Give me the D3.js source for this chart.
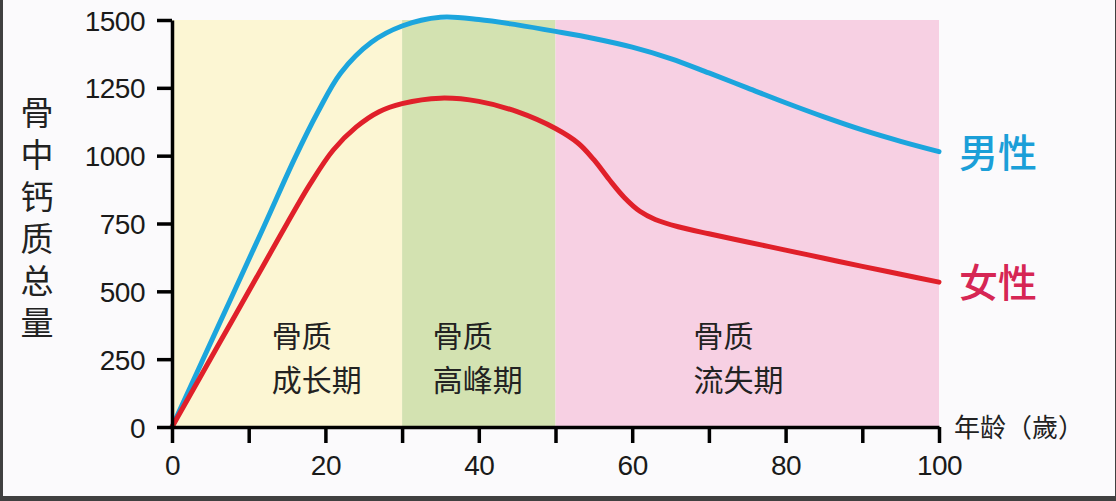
<!DOCTYPE html>
<html><head><meta charset="utf-8">
<script src="https://cdn.jsdelivr.net/npm/d3@7"></script>
<style>
html,body{margin:0;padding:0;background:#fbfafc;}
svg{display:block;}
</style></head>
<body>
<svg id="c" width="1116" height="501"></svg>
<script>
// ---- data ----
const maleAges = [0,6,12,16,19,22,26,30,35,40,45,50,55,60,65,70,75,80,85,90,95,100];
const male = [0,370,740,990,1160,1305,1418,1478,1510,1502,1482,1458,1432,1400,1358,1305,1250,1195,1143,1095,1053,1015];
const femaleAges = [0,6,12,15,18,21,24,27,30,35,40,45,50,53,55,57,59,61,63,66,70,75,80,85,90,95,100];
const female = [0,300,600,750,895,1020,1105,1162,1192,1212,1200,1162,1100,1045,985,912,845,795,765,738,712,682,652,622,592,563,534];
const xTicks = [0,10,20,30,40,50,60,70,80,90,100];
const xLabels = [0,20,40,60,80,100];
const yTicks = [0,250,500,750,1000,1250,1500];
const phases = [
  {from:0, to:30, l1:"骨质", l2:"成长期", color:"#fcf6d3", lx:13},
  {from:30, to:50, l1:"骨质", l2:"高峰期", color:"#d3e2b1", lx:4},
  {from:50, to:100, l1:"骨质", l2:"流失期", color:"#f7d0e3", lx:18}
];
const yTitle = "骨中钙质总量";
const xTitle = "年龄（歲）";
const seriesLabels = [{name:"男性", color:"#1b9fd8", end:1015}, {name:"女性", color:"#d62654", end:534}];

// ---- drawing ----
const svg = d3.select("#c");
const W = 1116, H = 501;
const x = d3.scaleLinear().domain([0,100]).range([172,939]);
const y = d3.scaleLinear().domain([0,1500]).range([427,20]);

svg.append("rect").attr("x",0).attr("y",0).attr("width",W).attr("height",H).attr("fill","#fbfafc");

// phase bands
svg.selectAll("rect.band").data(phases).enter().append("rect")
  .attr("class","band")
  .attr("x",d=>x(d.from)).attr("width",d=>x(d.to)-x(d.from))
  .attr("y",y(1500)).attr("height",y(0)-y(1500))
  .attr("fill",d=>d.color);

const cjk = "'Noto Sans CJK SC','Noto Sans CJK JP',sans-serif";
const lat = "'Liberation Sans',Arial,sans-serif";

// phase labels (two lines in one text element)
phases.forEach(p=>{
  const gx = x(p.from) + p.lx*7.67;
  const t = svg.append("text").attr("x",gx).attr("y",347)
    .attr("font-family",cjk).attr("font-size",30).attr("fill","#222");
  t.append("tspan").attr("x",gx).text(p.l1);
  t.append("tspan").attr("x",gx).attr("dy",44).text(p.l2);
});

// lines
const line = d3.line().curve(d3.curveCatmullRom.alpha(0.5));
svg.append("path")
  .attr("d", line(maleAges.map((a,i)=>[x(a), y(male[i])])))
  .attr("fill","none").attr("stroke","#1ca5dd").attr("stroke-width",5).attr("stroke-linecap","round");
svg.append("path")
  .attr("d", line(femaleAges.map((a,i)=>[x(a), y(female[i])])))
  .attr("fill","none").attr("stroke","#e0202a").attr("stroke-width",5).attr("stroke-linecap","round");

// axes
const yAxis = d3.axisLeft(y).tickValues(yTicks).tickSizeInner(15).tickSizeOuter(0).tickPadding(12)
  .tickFormat(d3.format("d"));
const gy = svg.append("g").attr("transform",`translate(${x(0)},0)`).call(yAxis);
const xAxis = d3.axisBottom(x).tickValues(xTicks).tickSizeInner(16).tickSizeOuter(0).tickPadding(12)
  .tickFormat(d=> xLabels.includes(d) ? d3.format("d")(d) : "");
const gx = svg.append("g").attr("transform",`translate(0,${y(0)})`).call(xAxis);
[gy,gx].forEach(g=>{
  g.select(".domain").attr("stroke","#000").attr("stroke-width",3.5);
  g.selectAll(".tick line").attr("stroke","#000").attr("stroke-width",3.5);
  g.selectAll(".tick text").attr("font-family",lat).attr("font-size",28).attr("fill","#1a1a1a").attr("letter-spacing","-0.5px");
});
gy.selectAll(".tick text").attr("dy","0.36em");
gx.selectAll(".tick text").attr("dy","0.72em");

// y title (vertical writing mode)
svg.append("text").attr("x",37).attr("y",96)
  .style("writing-mode","vertical-rl").attr("letter-spacing","9px")
  .attr("font-family",cjk).attr("font-size",33).attr("fill","#222").text(yTitle);

// x title
svg.append("text").attr("x",954).attr("y",437).text(xTitle)
  .attr("font-family",cjk).attr("font-size",26).attr("fill","#222");

// series labels
svg.selectAll("text.sl").data(seriesLabels).enter().append("text")
  .attr("class","sl").attr("x",959).attr("y",d=>y(d.end)+15).text(d=>d.name)
  .attr("font-family",cjk).attr("font-size",39).attr("font-weight",500).attr("fill",d=>d.color);

// border (photo frame)
svg.append("rect").attr("x",0).attr("y",0).attr("width",3).attr("height",H).attr("fill","#404040");
svg.append("rect").attr("x",W-1).attr("y",0).attr("width",1).attr("height",H).attr("fill","#404040");
svg.append("rect").attr("x",0).attr("y",496).attr("width",W).attr("height",5).attr("fill","#404040");
</script>
</body></html>
